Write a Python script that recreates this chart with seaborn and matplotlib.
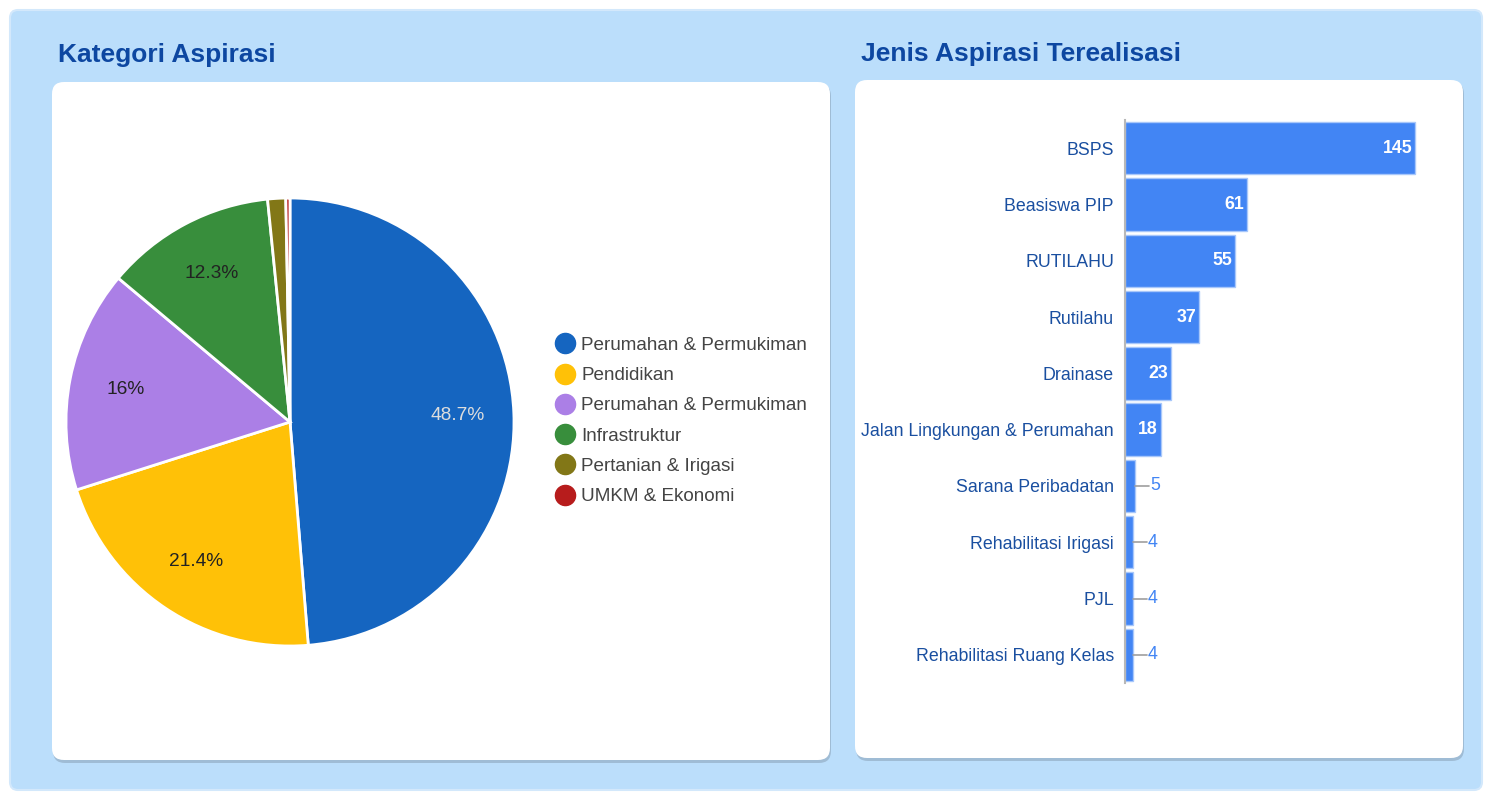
import matplotlib
matplotlib.use("Agg")
import matplotlib.pyplot as plt
import seaborn as sns
import pandas as pd
from matplotlib.patches import FancyBboxPatch
from matplotlib.lines import Line2D
from matplotlib.transforms import IdentityTransform

# ---------------- data ----------------
pie_labels = ["Perumahan & Permukiman", "Pendidikan", "Perumahan & Permukiman",
              "Infrastruktur", "Pertanian & Irigasi", "UMKM & Ekonomi"]
pie_values = [48.7, 21.4, 16.0, 12.3, 1.3, 0.3]
pie_colors = ["#1565c0", "#ffc107", "#ab7fe6", "#388e3c", "#827717", "#b71c1c"]

bar_labels = ["BSPS", "Beasiswa PIP", "RUTILAHU", "Rutilahu", "Drainase",
              "Jalan Lingkungan & Perumahan", "Sarana Peribadatan",
              "Rehabilitasi Irigasi", "PJL", "Rehabilitasi Ruang Kelas"]
bar_values = [145, 61, 55, 37, 23, 18, 5, 4, 4, 4]
bar_color = "#4285f4"

title_left = "Kategori Aspirasi"
title_right = "Jenis Aspirasi Terealisasi"

# ---------------- style ----------------
sns.set_theme(style="white")
plt.rcParams['font.family'] = ['Liberation Sans', 'DejaVu Sans']

W, H = 1488, 796
fig = plt.figure(figsize=(W / 100, H / 100), dpi=100)
fig.patch.set_facecolor("white")


def box(x0, y0, x1, y1, fc, r, ec="none", lw=0, z=0, alpha=1.0):
    p = FancyBboxPatch((x0, H - y1), x1 - x0, y1 - y0,
                       boxstyle=f"round,pad=0,rounding_size={r}",
                       fc=fc, ec=ec, lw=lw, transform=IdentityTransform(),
                       zorder=z, alpha=alpha)
    fig.add_artist(p)


# panels
box(10, 10, 1482, 790, "#bbdefb", 8, ec="#d3e8fb", lw=1.5, z=0)
for (x0, y0, x1, y1) in [(52, 82, 830, 760), (855, 80, 1463, 758)]:
    box(x0 + 1, y0 + 2, x1 + 1, y1 + 3, "#7f93a8", 12, z=1, alpha=0.45)
    box(x0, y0, x1, y1, "white", 12, z=2)

fig.text(58 / W, 1 - 55 / H, title_left, fontsize=19, weight="bold",
         color="#0d47a1", va="center", ha="left")
fig.text(861 / W, 1 - 54 / H, title_right, fontsize=19, weight="bold",
         color="#0d47a1", va="center", ha="left")

# ---------------- pie ----------------
cx, cy, R = 290, 422, 224
ax1 = fig.add_axes([(cx - R) / W, (H - cy - R) / H, 2 * R / W, 2 * R / H])
ax1.set_zorder(3)


def fmt(p):
    p = round(p, 1)
    return f"{p:g}%" if p >= 5 else ""


wedges, texts, autotexts = ax1.pie(
    pie_values, colors=pie_colors, startangle=90, counterclock=False,
    wedgeprops=dict(edgecolor="white", linewidth=2),
    autopct=fmt, pctdistance=0.75,
    textprops=dict(fontsize=13.8, color="#222222"))
autotexts[0].set_color("#dddddd")
ax1.set_xlim(-1, 1)
ax1.set_ylim(-1, 1)
ax1.set_aspect("equal")
ax1.axis("off")

handles = [Line2D([], [], marker="o", linestyle="", markersize=14.5,
                  markerfacecolor=c, markeredgecolor=c) for c in pie_colors]
leg = ax1.legend(handles, pie_labels, loc="center left",
                 bbox_to_anchor=(555 / W, 1 - 421 / H),
                 bbox_transform=fig.transFigure, frameon=False,
                 fontsize=13.6, handletextpad=0.3, labelspacing=0.69,
                 handlelength=1.1, borderaxespad=0, borderpad=0)
for t in leg.get_texts():
    t.set_color("#444444")

# ---------------- bars ----------------
df = pd.DataFrame({"cat": bar_labels, "val": bar_values})
ax2 = fig.add_axes([1125 / W, (H - 683) / H, 320 / W, 563 / H])
ax2.set_zorder(3)
ax2.patch.set_alpha(0)
sns.barplot(data=df, x="val", y="cat", orient="h", color=bar_color,
            saturation=1, width=0.93, ax=ax2, linewidth=1,
            edgecolor="#a8c7fa")
ax2.set_xlim(0, 160)
ax2.set_ylim(9.5, -0.5)
ax2.set_xlabel("")
ax2.set_ylabel("")
ax2.set_xticks([])
for s in ["top", "right", "bottom"]:
    ax2.spines[s].set_visible(False)
ax2.spines["left"].set_color("#b8b8b8")
ax2.spines["left"].set_linewidth(1.5)
ax2.tick_params(axis="y", length=0, pad=8, labelsize=12.8, labelcolor="#1a4fa0")

for i, v in enumerate(bar_values):
    if v >= 10:
        ax2.text(v - 1.5, i, str(v), ha="right", va="center", color="white",
                 weight="bold", fontsize=12.8)
    else:
        ax2.plot([v, v + 7], [i, i], color="#9e9e9e", lw=1.2)
        ax2.text(v + 7.5, i, str(v), ha="left", va="center", color=bar_color,
                 fontsize=12.8)

fig.savefig("out.png", dpi=100, facecolor="white")
